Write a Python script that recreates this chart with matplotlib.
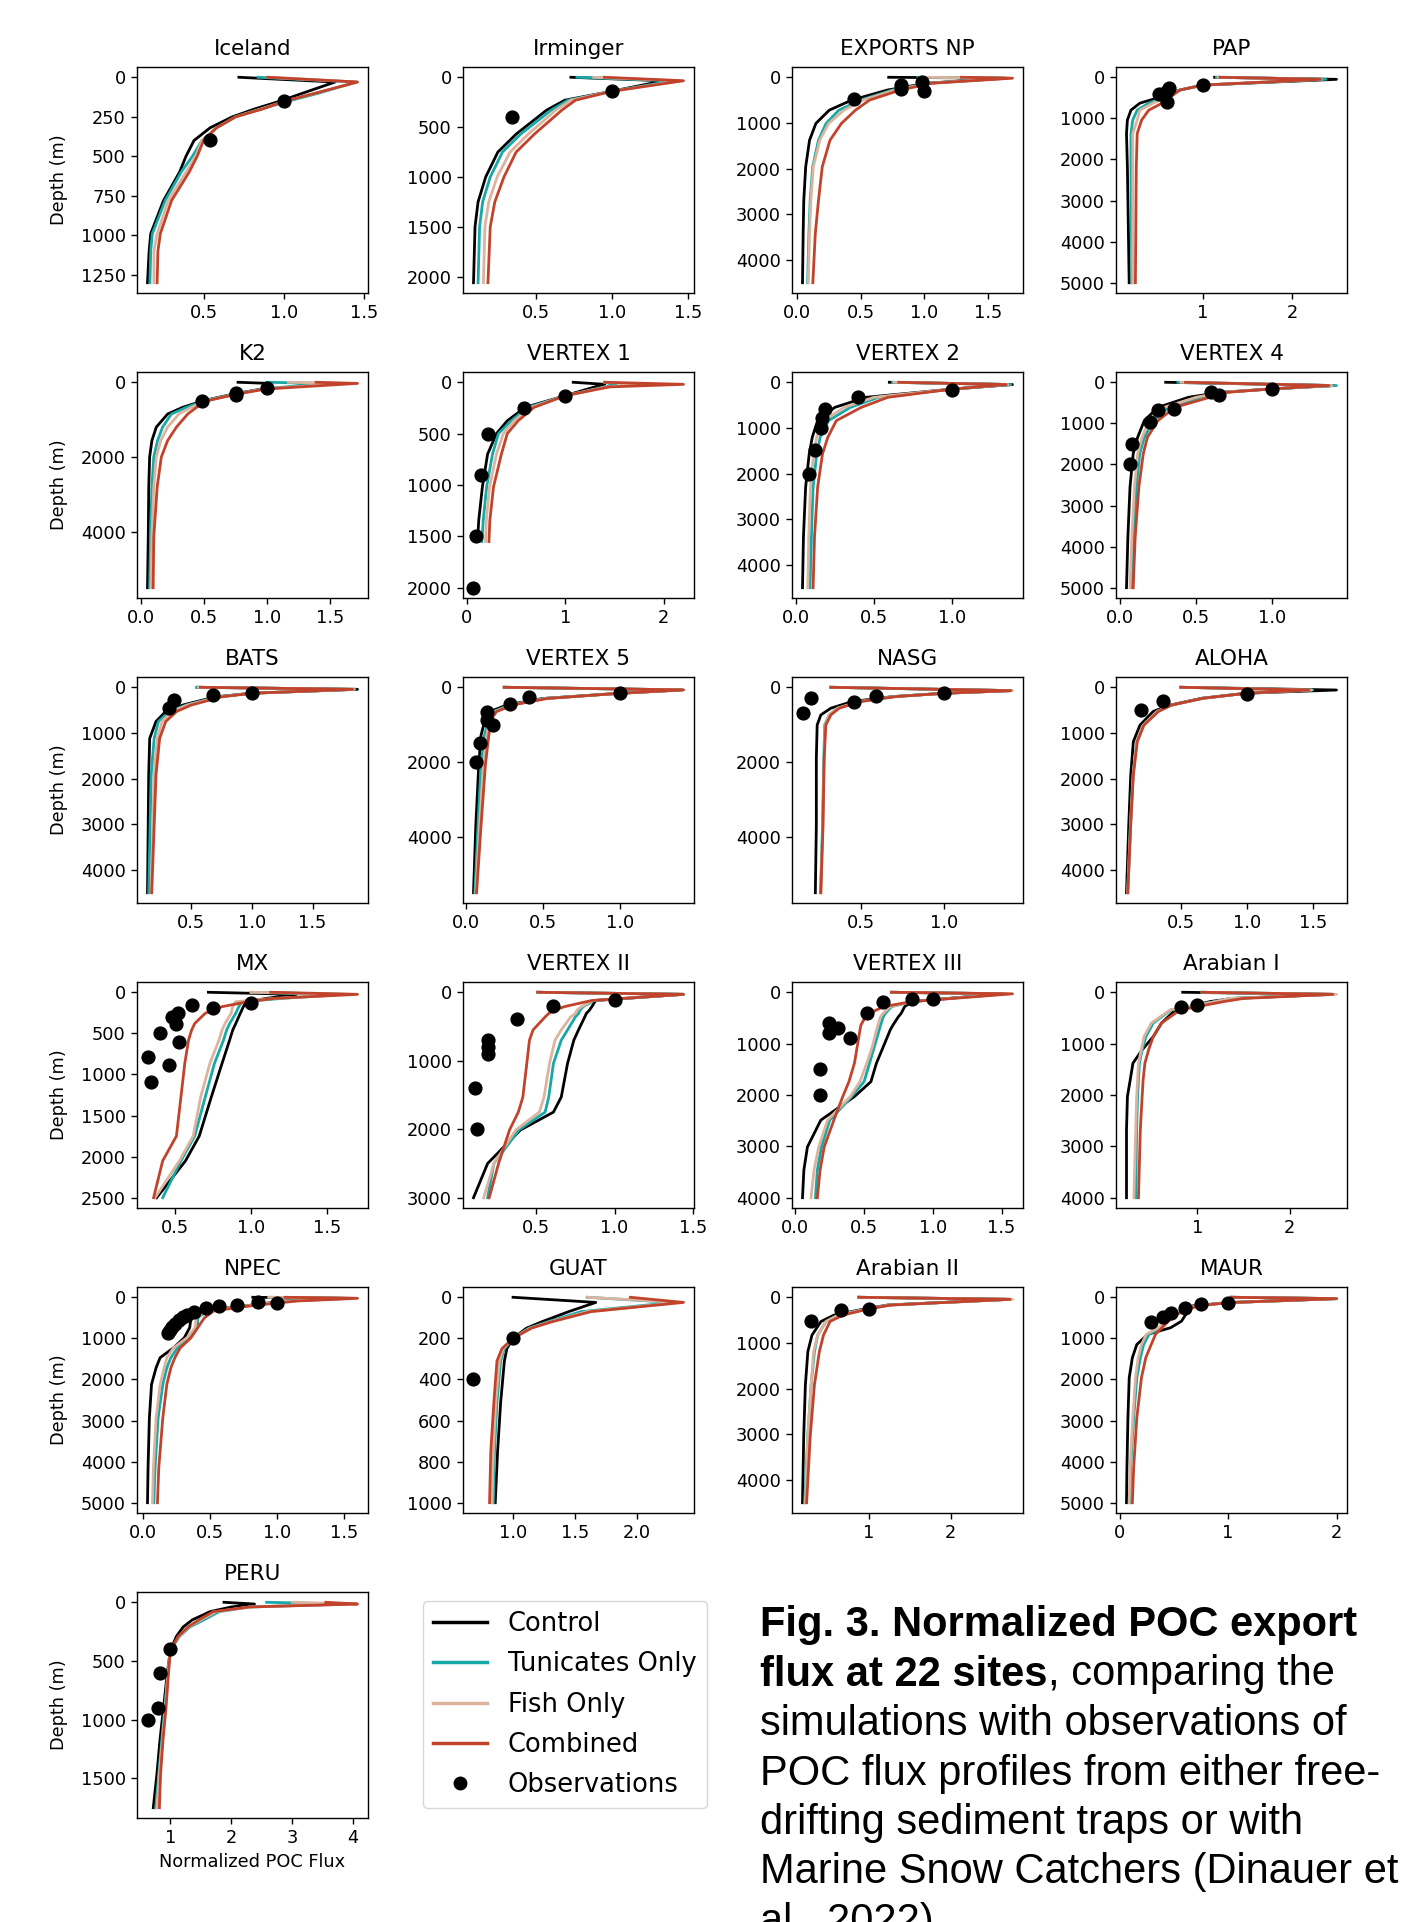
import matplotlib
matplotlib.use("Agg")
import matplotlib.pyplot as plt
from matplotlib.lines import Line2D

# values: normalized POC flux vs depth (m)

# Iceland
iceland_z = [0, 30, 100, 150, 200, 250, 320, 400, 500, 600, 780, 990, 1100, 1300]
iceland_ctrl = [0.72, 1.32, 1.12, 0.98, 0.82, 0.68, 0.54, 0.44, 0.39, 0.35, 0.25, 0.17, 0.16, 0.15]
iceland_tun = [0.84, 1.45, 1.22, 1.03, 0.86, 0.70, 0.58, 0.49, 0.43, 0.36, 0.26, 0.18, 0.17, 0.165]
iceland_fish = [0.90, 1.46, 1.20, 1.01, 0.86, 0.70, 0.58, 0.49, 0.45, 0.39, 0.28, 0.21, 0.19, 0.19]
iceland_comb = [0.90, 1.46, 1.20, 1.01, 0.87, 0.70, 0.58, 0.50, 0.46, 0.41, 0.30, 0.23, 0.215, 0.21]
iceland_obs_x = [1.0, 0.54]
iceland_obs_z = [150, 400]

# Irminger
irminger_z = [0, 35, 140, 230, 330, 570, 750, 1000, 1250, 1500, 2060]
irminger_ctrl = [0.73, 1.34, 1.0, 0.69, 0.57, 0.37, 0.25, 0.17, 0.12, 0.10, 0.09]
irminger_tun = [0.77, 1.40, 1.0, 0.71, 0.60, 0.40, 0.28, 0.20, 0.15, 0.13, 0.12]
irminger_fish = [0.88, 1.45, 1.0, 0.73, 0.63, 0.45, 0.33, 0.245, 0.19, 0.165, 0.155]
irminger_comb = [0.95, 1.47, 1.0, 0.76, 0.67, 0.49, 0.37, 0.29, 0.23, 0.20, 0.185]
irminger_obs_x = [1.0, 0.34]
irminger_obs_z = [140, 400]

# EXPORTS NP
exports_z = [0, 20, 130, 280, 500, 720, 1010, 1380, 1960, 2700, 3430, 4500]
exports_ctrl = [0.72, 1.62, 1.02, 0.71, 0.43, 0.255, 0.15, 0.10, 0.07, 0.055, 0.05, 0.045]
exports_tun = [0.95, 1.64, 1.04, 0.75, 0.50, 0.33, 0.23, 0.17, 0.125, 0.105, 0.095, 0.085]
exports_fish = [0.99, 1.66, 1.05, 0.77, 0.52, 0.37, 0.25, 0.18, 0.13, 0.11, 0.10, 0.09]
exports_comb = [1.29, 1.69, 1.06, 0.81, 0.57, 0.46, 0.35, 0.26, 0.20, 0.17, 0.145, 0.126]
exports_obs_x = [0.45, 0.82, 0.82, 0.98, 1.0]
exports_obs_z = [470, 180, 250, 110, 300]

# PAP
pap_z = [0, 50, 190, 310, 470, 630, 800, 1040, 1370, 2180, 5000]
pap_ctrl = [1.13, 2.50, 1.0, 0.74, 0.54, 0.29, 0.19, 0.15, 0.14, 0.15, 0.17]
pap_tun = [1.15, 2.38, 1.0, 0.74, 0.58, 0.39, 0.26, 0.21, 0.19, 0.19, 0.20]
pap_fish = [1.17, 2.33, 1.0, 0.74, 0.60, 0.44, 0.29, 0.26, 0.21, 0.21, 0.21]
pap_comb = [1.19, 2.32, 1.0, 0.74, 0.64, 0.54, 0.39, 0.31, 0.26, 0.25, 0.24]
pap_obs_x = [0.51, 0.59, 0.62, 0.60, 1.0]
pap_obs_z = [410, 330, 250, 600, 190]

# K2
k2_z = [0, 30, 180, 310, 490, 670, 850, 1200, 1560, 2000, 2800, 4140, 5500]
k2_ctrl = [0.77, 1.02, 0.96, 0.74, 0.50, 0.33, 0.21, 0.12, 0.085, 0.067, 0.06, 0.056, 0.05]
k2_tun = [1.0, 1.45, 0.97, 0.75, 0.51, 0.36, 0.24, 0.17, 0.13, 0.10, 0.085, 0.074, 0.067]
k2_fish = [1.17, 1.60, 0.98, 0.76, 0.52, 0.40, 0.30, 0.21, 0.155, 0.12, 0.10, 0.085, 0.077]
k2_comb = [1.39, 1.72, 0.99, 0.77, 0.53, 0.44, 0.37, 0.28, 0.21, 0.16, 0.127, 0.10, 0.095]
k2_obs_x = [1.0, 0.757, 0.75, 0.485]
k2_obs_z = [164, 280, 340, 490]

# VERTEX 1
v1_z = [0, 20, 45, 130, 245, 375, 500, 700, 1020, 1345, 1550]
v1_ctrl = [1.08, 1.40, 1.30, 1.0, 0.59, 0.41, 0.30, 0.21, 0.157, 0.12, 0.108]
v1_tun = [1.40, 1.52, 1.40, 1.0, 0.62, 0.45, 0.32, 0.26, 0.20, 0.166, 0.152]
v1_fish = [1.40, 1.80, 1.42, 1.0, 0.65, 0.48, 0.37, 0.30, 0.23, 0.197, 0.19]
v1_comb = [1.40, 2.20, 1.45, 1.0, 0.68, 0.52, 0.41, 0.35, 0.27, 0.233, 0.224]
v1_obs_x = [1.0, 0.58, 0.215, 0.144, 0.09, 0.067]
v1_obs_z = [130, 250, 500, 900, 1500, 2000]

# VERTEX 2
v2_z = [0, 50, 150, 330, 550, 840, 1200, 1570, 2300, 3390, 4500]
v2_ctrl = [0.60, 1.39, 1.0, 0.45, 0.25, 0.14, 0.106, 0.086, 0.063, 0.049, 0.043]
v2_tun = [0.62, 1.38, 1.0, 0.53, 0.35, 0.21, 0.157, 0.134, 0.111, 0.10, 0.091]
v2_fish = [0.63, 1.36, 1.0, 0.50, 0.31, 0.18, 0.134, 0.114, 0.094, 0.083, 0.077]
v2_comb = [0.66, 1.35, 1.0, 0.59, 0.42, 0.26, 0.206, 0.171, 0.14, 0.12, 0.111]
v2_obs_x = [1.0, 0.40, 0.19, 0.17, 0.16, 0.123, 0.083]
v2_obs_z = [160, 313, 583, 787, 998, 1493, 2003]

# VERTEX 4
v4_z = [0, 80, 160, 245, 365, 610, 930, 1340, 1740, 2550, 3770, 5000]
v4_ctrl = [0.30, 1.40, 1.0, 0.66, 0.45, 0.25, 0.16, 0.116, 0.087, 0.066, 0.052, 0.043]
v4_tun = [0.38, 1.42, 1.0, 0.68, 0.53, 0.32, 0.22, 0.16, 0.13, 0.107, 0.09, 0.078]
v4_fish = [0.40, 1.39, 1.0, 0.67, 0.50, 0.29, 0.19, 0.145, 0.116, 0.095, 0.078, 0.066]
v4_comb = [0.43, 1.37, 1.0, 0.70, 0.59, 0.36, 0.25, 0.18, 0.153, 0.124, 0.10, 0.087]
v4_obs_x = [1.0, 0.60, 0.65, 0.355, 0.25, 0.20, 0.078, 0.067]
v4_obs_z = [160, 230, 300, 650, 680, 960, 1500, 2000]

# BATS
bats_z = [0, 45, 130, 210, 390, 530, 750, 1120, 1920, 4500]
bats_ctrl = [0.55, 1.87, 1.0, 0.70, 0.43, 0.29, 0.21, 0.158, 0.15, 0.14]
bats_tun = [0.545, 1.85, 1.0, 0.72, 0.46, 0.32, 0.23, 0.195, 0.17, 0.15]
bats_fish = [0.56, 1.84, 1.0, 0.73, 0.47, 0.34, 0.26, 0.22, 0.195, 0.17]
bats_comb = [0.575, 1.83, 1.0, 0.75, 0.50, 0.38, 0.29, 0.24, 0.21, 0.175]
bats_obs_x = [1.0, 0.68, 0.36, 0.32]
bats_obs_z = [130, 170, 280, 460]

# VERTEX 5
v5_z = [0, 70, 160, 300, 470, 650, 830, 1280, 2080, 3690, 5500]
v5_ctrl = [0.25, 1.40, 1.0, 0.50, 0.27, 0.157, 0.128, 0.10, 0.085, 0.066, 0.051]
v5_tun = [0.25, 1.40, 1.0, 0.51, 0.29, 0.18, 0.15, 0.122, 0.10, 0.08, 0.06]
v5_fish = [0.25, 1.41, 1.0, 0.52, 0.30, 0.19, 0.16, 0.137, 0.115, 0.09, 0.066]
v5_comb = [0.25, 1.41, 1.0, 0.53, 0.31, 0.20, 0.17, 0.15, 0.128, 0.10, 0.071]
v5_obs_x = [1.0, 0.41, 0.29, 0.137, 0.137, 0.18, 0.09, 0.066]
v5_obs_z = [160, 250, 455, 670, 875, 1010, 1500, 1990]

# NASG
nasg_z = [0, 90, 160, 250, 380, 560, 740, 1010, 1900, 3690, 5500]
nasg_ctrl = [0.32, 1.40, 1.0, 0.69, 0.45, 0.32, 0.26, 0.238, 0.233, 0.233, 0.227]
nasg_tun = [0.32, 1.40, 1.0, 0.70, 0.49, 0.36, 0.31, 0.283, 0.278, 0.27, 0.258]
nasg_fish = [0.32, 1.41, 1.0, 0.70, 0.49, 0.36, 0.31, 0.286, 0.28, 0.272, 0.26]
nasg_comb = [0.32, 1.40, 1.0, 0.71, 0.50, 0.37, 0.32, 0.29, 0.28, 0.273, 0.26]
nasg_obs_x = [1.0, 0.59, 0.46, 0.20, 0.15]
nasg_obs_z = [160, 223, 400, 277, 696]

# ALOHA
aloha_z = [0, 60, 130, 240, 390, 530, 830, 1190, 1920, 3020, 4500]
aloha_ctrl = [0.50, 1.68, 1.0, 0.66, 0.42, 0.29, 0.19, 0.14, 0.12, 0.105, 0.088]
aloha_tun = [0.50, 1.50, 1.0, 0.67, 0.43, 0.32, 0.215, 0.165, 0.138, 0.118, 0.097]
aloha_fish = [0.50, 1.49, 1.0, 0.67, 0.43, 0.32, 0.215, 0.165, 0.138, 0.118, 0.097]
aloha_comb = [0.50, 1.47, 1.0, 0.67, 0.43, 0.33, 0.22, 0.17, 0.14, 0.12, 0.098]
aloha_obs_x = [1.0, 0.365, 0.20]
aloha_obs_z = [146, 292, 497]

# MX
mx_z = [0, 25, 75, 115, 175, 255, 380, 460, 580, 865, 1270, 1750, 2050, 2500]
mx_ctrl = [0.72, 1.30, 1.10, 0.97, 0.95, 0.93, 0.90, 0.88, 0.86, 0.81, 0.74, 0.66, 0.57, 0.38]
mx_tun = [1.0, 1.60, 1.20, 0.94, 0.92, 0.90, 0.86, 0.84, 0.82, 0.76, 0.70, 0.63, 0.54, 0.42]
mx_fish = [1.0, 1.65, 1.15, 0.90, 0.88, 0.87, 0.83, 0.81, 0.79, 0.73, 0.67, 0.62, 0.53, 0.37]
mx_comb = [1.13, 1.70, 1.15, 0.98, 0.81, 0.70, 0.63, 0.61, 0.59, 0.565, 0.54, 0.51, 0.42, 0.36]
mx_obs_x = [1.0, 0.75, 0.61, 0.52, 0.48, 0.51, 0.40, 0.53, 0.32, 0.46, 0.34]
mx_obs_z = [130, 190, 160, 250, 300, 380, 500, 600, 790, 890, 1090]

# VERTEX II
vii_z = [0, 30, 120, 210, 260, 310, 360, 550, 700, 1040, 1530, 1750, 2010, 2500, 3000]
vii_ctrl = [0.51, 1.44, 0.88, 0.855, 0.84, 0.82, 0.81, 0.77, 0.74, 0.70, 0.66, 0.61, 0.40, 0.19, 0.10]
vii_tun = [0.51, 1.44, 0.87, 0.80, 0.78, 0.77, 0.75, 0.70, 0.66, 0.61, 0.58, 0.557, 0.39, 0.23, 0.19]
vii_fish = [0.51, 1.44, 0.86, 0.79, 0.76, 0.75, 0.72, 0.66, 0.62, 0.585, 0.55, 0.52, 0.37, 0.23, 0.165]
vii_comb = [0.51, 1.44, 0.855, 0.68, 0.62, 0.58, 0.557, 0.48, 0.457, 0.44, 0.415, 0.386, 0.33, 0.26, 0.20]
vii_obs_x = [1.0, 0.61, 0.38, 0.19, 0.19, 0.19, 0.11, 0.12]
vii_obs_z = [120, 200, 395, 690, 795, 900, 1395, 2000]

# VERTEX III
viii_z = [0, 30, 180, 280, 410, 475, 640, 735, 1060, 1380, 1740, 2030, 2490, 3010, 3460, 4000]
viii_ctrl = [0.70, 1.50, 0.85, 0.795, 0.77, 0.75, 0.71, 0.69, 0.64, 0.59, 0.55, 0.43, 0.185, 0.088, 0.062, 0.052]
viii_tun = [0.70, 1.52, 0.85, 0.70, 0.655, 0.64, 0.62, 0.61, 0.575, 0.54, 0.50, 0.41, 0.25, 0.19, 0.16, 0.146]
viii_fish = [0.70, 1.54, 0.85, 0.69, 0.64, 0.62, 0.60, 0.59, 0.56, 0.52, 0.47, 0.40, 0.234, 0.17, 0.136, 0.114]
viii_comb = [0.70, 1.58, 0.85, 0.64, 0.54, 0.51, 0.477, 0.47, 0.45, 0.43, 0.39, 0.345, 0.28, 0.21, 0.18, 0.16]
viii_obs_x = [1.0, 0.85, 0.64, 0.52, 0.245, 0.31, 0.245, 0.40, 0.18, 0.18]
viii_obs_z = [136, 136, 182, 396, 591, 688, 799, 883, 1500, 2000]

# Arabian I
arab1_z = [0, 40, 120, 180, 345, 600, 865, 1120, 1380, 1710, 2030, 2680, 3330, 4000]
arab1_ctrl = [0.84, 2.45, 1.39, 1.14, 0.76, 0.61, 0.52, 0.40, 0.30, 0.27, 0.24, 0.23, 0.23, 0.23]
arab1_tun = [1.05, 2.48, 1.35, 1.20, 0.71, 0.52, 0.44, 0.40, 0.37, 0.36, 0.35, 0.34, 0.335, 0.33]
arab1_fish = [1.05, 2.51, 1.35, 1.20, 0.70, 0.50, 0.42, 0.39, 0.36, 0.35, 0.34, 0.33, 0.32, 0.31]
arab1_comb = [1.05, 2.47, 1.50, 1.29, 0.81, 0.61, 0.52, 0.47, 0.43, 0.41, 0.40, 0.38, 0.37, 0.36]
arab1_obs_x = [1.0, 0.82]
arab1_obs_z = [247, 292]

# NPEC
npec_z = [0, 25, 90, 210, 330, 500, 740, 985, 1230, 1470, 1715, 2120, 2935, 4150, 5000]
npec_ctrl = [0.82, 1.50, 1.06, 0.76, 0.43, 0.36, 0.35, 0.31, 0.23, 0.13, 0.10, 0.066, 0.05, 0.04, 0.036]
npec_tun = [0.94, 1.55, 1.10, 0.78, 0.48, 0.41, 0.41, 0.35, 0.26, 0.21, 0.18, 0.15, 0.115, 0.092, 0.083]
npec_fish = [0.94, 1.57, 1.10, 0.77, 0.47, 0.40, 0.39, 0.33, 0.23, 0.18, 0.16, 0.13, 0.10, 0.08, 0.073]
npec_comb = [1.06, 1.60, 1.15, 0.80, 0.53, 0.46, 0.41, 0.36, 0.28, 0.24, 0.21, 0.18, 0.15, 0.12, 0.11]
npec_obs_x = [1.0, 0.86, 0.70, 0.57, 0.47, 0.38, 0.33, 0.30, 0.27, 0.24, 0.22, 0.20, 0.19]
npec_obs_z = [130, 114, 195, 203, 252, 350, 420, 480, 560, 640, 720, 800, 880]

# GUAT
guat_z = [0, 25, 70, 120, 150, 200, 250, 310, 510, 750, 1000]
guat_ctrl = [1.0, 1.67, 1.45, 1.23, 1.11, 1.0, 0.95, 0.93, 0.90, 0.875, 0.856]
guat_tun = [1.6, 2.30, 1.55, 1.28, 1.13, 1.0, 0.93, 0.90, 0.87, 0.85, 0.84]
guat_fish = [1.6, 2.35, 1.60, 1.30, 1.14, 1.0, 0.92, 0.89, 0.86, 0.84, 0.83]
guat_comb = [1.95, 2.38, 1.63, 1.31, 1.15, 1.0, 0.91, 0.87, 0.845, 0.82, 0.81]
guat_obs_x = [1.0, 0.68]
guat_obs_z = [200, 400]

# Arabian II
arab2_z = [0, 45, 170, 255, 390, 530, 830, 1190, 1920, 3020, 4500]
arab2_ctrl = [0.88, 2.70, 1.23, 0.95, 0.58, 0.42, 0.31, 0.26, 0.23, 0.21, 0.195]
arab2_tun = [0.88, 2.72, 1.25, 0.98, 0.63, 0.48, 0.38, 0.34, 0.30, 0.26, 0.22]
arab2_fish = [0.88, 2.75, 1.25, 0.98, 0.63, 0.48, 0.38, 0.33, 0.30, 0.26, 0.23]
arab2_comb = [0.88, 2.72, 1.27, 1.0, 0.69, 0.53, 0.45, 0.40, 0.34, 0.29, 0.245]
arab2_obs_x = [1.0, 0.66, 0.30]
arab2_obs_z = [256, 278, 512]

# MAUR
maur_z = [0, 33, 130, 210, 330, 415, 580, 740, 900, 1150, 1470, 1960, 2940, 4150, 5000]
maur_ctrl = [1.03, 2.0, 1.0, 0.67, 0.63, 0.61, 0.57, 0.47, 0.26, 0.157, 0.116, 0.087, 0.075, 0.066, 0.062]
maur_tun = [1.03, 2.0, 1.0, 0.70, 0.58, 0.51, 0.44, 0.385, 0.27, 0.22, 0.19, 0.157, 0.128, 0.10, 0.095]
maur_fish = [1.03, 2.0, 1.0, 0.70, 0.56, 0.49, 0.42, 0.36, 0.245, 0.20, 0.17, 0.145, 0.12, 0.095, 0.087]
maur_comb = [1.03, 2.0, 1.0, 0.72, 0.59, 0.53, 0.45, 0.39, 0.33, 0.29, 0.24, 0.20, 0.157, 0.128, 0.116]
maur_obs_x = [1.0, 0.745, 0.605, 0.47, 0.40, 0.29]
maur_obs_z = [130, 154, 268, 374, 472, 593]

# PERU
peru_z = [0, 15, 40, 80, 150, 210, 290, 410, 600, 890, 1170, 1460, 1750]
peru_ctrl = [1.88, 2.38, 2.0, 1.65, 1.36, 1.21, 1.10, 1.0, 0.95, 0.89, 0.83, 0.78, 0.72]
peru_tun = [2.58, 3.90, 2.3, 1.80, 1.55, 1.32, 1.15, 1.0, 0.96, 0.91, 0.86, 0.81, 0.76]
peru_fish = [3.0, 4.0, 2.3, 1.75, 1.50, 1.30, 1.14, 1.0, 0.96, 0.92, 0.87, 0.82, 0.78]
peru_comb = [3.55, 4.07, 2.3, 1.70, 1.47, 1.29, 1.13, 1.0, 0.97, 0.93, 0.88, 0.84, 0.82]
peru_obs_x = [1.0, 0.83, 0.80, 0.625]
peru_obs_z = [400, 604, 902, 1001]

# tick labels per panel
xticks = [[0.5, 1.0, 1.5], [0.5, 1.0, 1.5], [0.0, 0.5, 1.0, 1.5], [1, 2],
          [0.0, 0.5, 1.0, 1.5], [0, 1, 2], [0.0, 0.5, 1.0], [0.0, 0.5, 1.0],
          [0.5, 1.0, 1.5], [0.0, 0.5, 1.0], [0.5, 1.0], [0.5, 1.0, 1.5],
          [0.5, 1.0, 1.5], [0.5, 1.0, 1.5], [0.0, 0.5, 1.0, 1.5], [1, 2],
          [0.0, 0.5, 1.0, 1.5], [1.0, 1.5, 2.0], [1, 2], [0, 1, 2],
          [1, 2, 3, 4]]
yticks = [[0, 250, 500, 750, 1000, 1250], [0, 500, 1000, 1500, 2000],
          [0, 1000, 2000, 3000, 4000], [0, 1000, 2000, 3000, 4000, 5000],
          [0, 2000, 4000], [0, 500, 1000, 1500, 2000],
          [0, 1000, 2000, 3000, 4000], [0, 1000, 2000, 3000, 4000, 5000],
          [0, 1000, 2000, 3000, 4000], [0, 2000, 4000],
          [0, 2000, 4000], [0, 1000, 2000, 3000, 4000],
          [0, 500, 1000, 1500, 2000, 2500], [0, 1000, 2000, 3000],
          [0, 1000, 2000, 3000, 4000], [0, 1000, 2000, 3000, 4000],
          [0, 1000, 2000, 3000, 4000, 5000], [0, 200, 400, 600, 800, 1000],
          [0, 1000, 2000, 3000, 4000], [0, 1000, 2000, 3000, 4000, 5000],
          [0, 500, 1000, 1500]]

sites = ["Iceland", "Irminger", "EXPORTS NP", "PAP",
         "K2", "VERTEX 1", "VERTEX 2", "VERTEX 4",
         "BATS", "VERTEX 5", "NASG", "ALOHA",
         "MX", "VERTEX II", "VERTEX III", "Arabian I",
         "NPEC", "GUAT", "Arabian II", "MAUR",
         "PERU"]

panels = [
    (iceland_z, iceland_ctrl, iceland_tun, iceland_fish, iceland_comb, iceland_obs_x, iceland_obs_z),
    (irminger_z, irminger_ctrl, irminger_tun, irminger_fish, irminger_comb, irminger_obs_x, irminger_obs_z),
    (exports_z, exports_ctrl, exports_tun, exports_fish, exports_comb, exports_obs_x, exports_obs_z),
    (pap_z, pap_ctrl, pap_tun, pap_fish, pap_comb, pap_obs_x, pap_obs_z),
    (k2_z, k2_ctrl, k2_tun, k2_fish, k2_comb, k2_obs_x, k2_obs_z),
    (v1_z, v1_ctrl, v1_tun, v1_fish, v1_comb, v1_obs_x, v1_obs_z),
    (v2_z, v2_ctrl, v2_tun, v2_fish, v2_comb, v2_obs_x, v2_obs_z),
    (v4_z, v4_ctrl, v4_tun, v4_fish, v4_comb, v4_obs_x, v4_obs_z),
    (bats_z, bats_ctrl, bats_tun, bats_fish, bats_comb, bats_obs_x, bats_obs_z),
    (v5_z, v5_ctrl, v5_tun, v5_fish, v5_comb, v5_obs_x, v5_obs_z),
    (nasg_z, nasg_ctrl, nasg_tun, nasg_fish, nasg_comb, nasg_obs_x, nasg_obs_z),
    (aloha_z, aloha_ctrl, aloha_tun, aloha_fish, aloha_comb, aloha_obs_x, aloha_obs_z),
    (mx_z, mx_ctrl, mx_tun, mx_fish, mx_comb, mx_obs_x, mx_obs_z),
    (vii_z, vii_ctrl, vii_tun, vii_fish, vii_comb, vii_obs_x, vii_obs_z),
    (viii_z, viii_ctrl, viii_tun, viii_fish, viii_comb, viii_obs_x, viii_obs_z),
    (arab1_z, arab1_ctrl, arab1_tun, arab1_fish, arab1_comb, arab1_obs_x, arab1_obs_z),
    (npec_z, npec_ctrl, npec_tun, npec_fish, npec_comb, npec_obs_x, npec_obs_z),
    (guat_z, guat_ctrl, guat_tun, guat_fish, guat_comb, guat_obs_x, guat_obs_z),
    (arab2_z, arab2_ctrl, arab2_tun, arab2_fish, arab2_comb, arab2_obs_x, arab2_obs_z),
    (maur_z, maur_ctrl, maur_tun, maur_fish, maur_comb, maur_obs_x, maur_obs_z),
    (peru_z, peru_ctrl, peru_tun, peru_fish, peru_comb, peru_obs_x, peru_obs_z),
]

labels = ["Control", "Tunicates Only", "Fish Only", "Combined", "Observations"]
colors = ["#000000", "#17a8a8", "#dcb49e", "#c2432c"]

W, H = 1401, 1922
fig = plt.figure(figsize=(W / 100, H / 100), dpi=100)

col_left = [137, 463, 792, 1116]
row_top = [67, 372, 677, 982, 1287, 1592]
ax_w, ax_h = 231, 226

for i, p in enumerate(panels):
    r, c = divmod(i, 4)
    ax = fig.add_axes([col_left[c] / W, 1 - (row_top[r] + ax_h) / H, ax_w / W, ax_h / H])
    z = p[0]
    for k in range(4):
        ax.plot(p[k + 1], z, color=colors[k], lw=2.0)
    ax.scatter(p[5], p[6], s=85, color="black", zorder=3)
    ax.set_xticks(xticks[i])
    ax.set_yticks(yticks[i])
    ax.invert_yaxis()
    ax.set_title(sites[i], fontsize=15.5, pad=8.5)
    ax.tick_params(labelsize=12.8, length=4.5, width=1.0)
    for s in ax.spines.values():
        s.set_linewidth(1.0)
    if c == 0:
        ax.set_ylabel("Depth (m)", fontsize=12.8)
        ax.yaxis.set_label_coords(-0.30, 0.5)
    if i == len(panels) - 1:
        ax.set_xlabel("Normalized POC Flux", fontsize=12.8)

handles = [Line2D([], [], color=col, lw=2.5) for col in colors]
handles.append(Line2D([], [], color="black", marker="o", ls="none", markersize=9))
fig.legend(handles, labels, loc="upper left", bbox_to_anchor=(423 / W, 1 - 1601 / H),
           borderaxespad=0, fontsize=18.5, labelspacing=0.55, handlelength=2.1,
           handletextpad=0.8)

# caption
cap_x, cap_y0, cap_dy = 760, 1636, 49.5
cap_font = dict(family="Liberation Sans", size=30, va="baseline")
renderer = fig.canvas.get_renderer()
fig.text(cap_x / W, 1 - cap_y0 / H, "Fig. 3. Normalized POC export", fontweight="bold", **cap_font)
t = fig.text(cap_x / W, 1 - (cap_y0 + cap_dy) / H, "flux at 22 sites", fontweight="bold", **cap_font)
bb = t.get_window_extent(renderer)
fig.text(bb.x1 / W, 1 - (cap_y0 + cap_dy) / H, ", comparing the", **cap_font)
rest = ["simulations with observations of",
        "POC flux profiles from either free-",
        "drifting sediment traps or with",
        "Marine Snow Catchers (Dinauer et",
        "al., 2022)."]
for j, line in enumerate(rest):
    fig.text(cap_x / W, 1 - (cap_y0 + (j + 2) * cap_dy) / H, line, **cap_font)

fig.savefig("out.png", dpi=100)
